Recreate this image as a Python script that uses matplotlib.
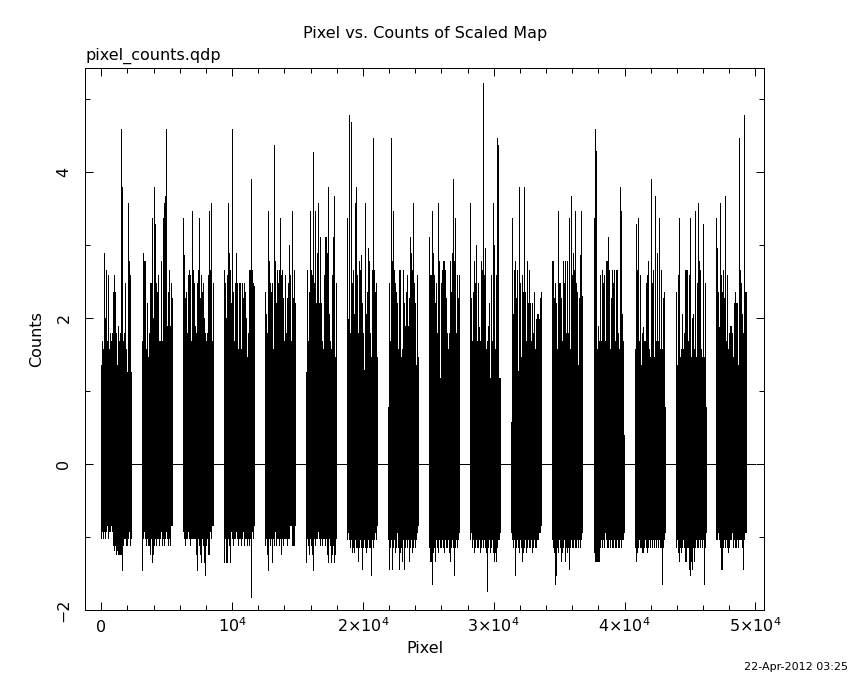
import numpy as np
import matplotlib
matplotlib.use("Agg")
import matplotlib.pyplot as plt
from matplotlib.ticker import MultipleLocator

# pixel ranges of the 16 map strips (start pixel, width), zeros in between
block_starts = [0, 3107, 6237, 9367, 12550, 15650, 18780, 21910,
                25040, 28170, 31300, 34430, 37640, 40770, 43900, 47030]
block_width = 2370
pixel_end = 50000

# upper envelope of counts per screen column, one list per strip
tops = [
    [1.36, 1.68, 1.57, 2.89, 2.0, 2.66, 1.68, 2.58, 1.57, 1.79, 1.68, 1.79, 2.36, 2.58, 2.36, 1.79,
     1.36, 1.89, 1.68, 1.79, 4.58, 3.79, 1.68, 1.79, 2.47, 1.57, 1.26, 3.57, 2.78, 2.58, 1.26],
    [1.68, 2.89, 2.78, 2.78, 1.57, 2.2, 1.47, 1.79, 2.47, 2.47, 3.36, 2.0, 3.79, 3.28, 2.47, 2.36,
     2.58, 1.68, 1.68, 2.78, 1.68, 3.36, 3.57, 3.67, 4.58, 1.89, 2.36, 2.66, 1.89, 2.47, 2.27],
    [3.36, 2.86, 2.27, 2.36, 1.79, 2.58, 2.66, 2.58, 1.68, 3.46, 2.66, 2.47, 1.89, 1.79, 2.47, 2.66,
     3.36, 2.27, 2.58, 2.36, 2.47, 2.0, 1.79, 1.68, 1.79, 2.58, 3.46, 2.66, 3.57, 1.68, 2.47],
    [2.66, 2.47, 2.0, 2.58, 3.57, 2.89, 2.66, 2.2, 4.58, 2.36, 1.68, 2.47, 2.89, 2.47, 1.57, 2.47,
     2.47, 1.57, 2.47, 2.27, 2.47, 2.36, 2.0, 1.47, 1.79, 2.66, 2.66, 3.9, 2.66, 2.47, 2.43],
    [2.36, 2.05, 1.79, 3.46, 2.78, 2.47, 2.36, 2.47, 1.57, 4.36, 2.78, 2.2, 2.66, 2.47, 2.66, 3.36,
     2.58, 2.66, 2.27, 1.68, 2.58, 1.79, 2.27, 2.47, 3.0, 2.58, 1.68, 3.46, 2.27, 2.66, 2.2],
    [1.26, 2.66, 1.68, 2.36, 3.46, 2.66, 2.58, 4.27, 2.47, 3.46, 2.2, 2.89, 3.57, 2.2, 3.11, 2.2,
     1.68, 1.57, 2.58, 3.11, 3.11, 2.89, 3.79, 2.05, 1.68, 1.57, 2.58, 3.11, 3.67, 1.47, 2.47],
    [3.36, 1.98, 4.78, 1.79, 4.68, 2.47, 2.66, 2.05, 3.57, 3.79, 2.58, 1.79, 2.78, 2.66, 2.86, 2.2,
     1.79, 1.28, 3.57, 2.05, 2.36, 2.95, 2.78, 1.79, 1.47, 2.66, 4.46, 2.66, 2.36, 2.47, 1.47],
    [0.78, 2.47, 1.68, 4.46, 2.78, 3.46, 2.66, 2.47, 2.36, 2.2, 1.57, 2.66, 2.66, 1.47, 1.57, 2.66,
     2.2, 1.89, 2.36, 2.58, 1.89, 2.27, 3.11, 2.89, 2.66, 3.57, 2.47, 2.2, 1.36, 2.58, 1.47],
    [3.11, 2.58, 2.58, 3.46, 2.89, 2.58, 2.2, 2.47, 1.79, 3.57, 2.78, 1.17, 2.47, 2.66, 2.78, 2.78,
     2.66, 2.27, 1.79, 1.57, 1.79, 2.78, 2.36, 2.89, 3.9, 2.78, 3.36, 1.79, 2.58, 2.27, 2.58],
    [3.57, 2.27, 1.68, 2.36, 2.78, 2.47, 3.0, 1.68, 2.47, 1.87, 1.68, 2.78, 2.66, 5.22, 2.58, 2.95,
     1.57, 1.68, 1.89, 2.2, 1.17, 2.58, 1.68, 3.57, 3.0, 1.57, 2.58, 4.46, 4.36, 1.17, 1.17],
    [0.58, 3.36, 2.05, 2.66, 2.78, 2.27, 2.66, 1.27, 3.79, 2.47, 1.47, 2.58, 2.36, 3.79, 2.36, 1.68,
     2.78, 2.2, 2.66, 2.2, 1.68, 2.2, 1.79, 2.36, 1.57, 1.98, 2.05, 2.05, 1.98, 2.27, 2.36],
    [2.78, 2.78, 2.27, 2.47, 2.2, 1.57, 3.46, 2.47, 2.47, 2.27, 1.68, 2.78, 2.47, 2.78, 1.79, 2.78,
     1.79, 3.36, 1.57, 3.67, 2.58, 2.89, 2.66, 3.46, 2.47, 2.36, 1.36, 2.27, 2.86, 3.46, 2.3],
    [3.36, 4.58, 4.28, 1.57, 1.89, 1.68, 2.58, 1.68, 2.66, 2.47, 2.58, 1.68, 2.78, 2.78, 3.11, 2.66,
     1.57, 2.27, 2.66, 2.47, 2.66, 1.68, 2.66, 2.66, 1.79, 1.57, 3.79, 3.46, 2.05, 1.68, 0.4],
    [1.57, 3.28, 2.66, 3.36, 1.68, 2.58, 1.36, 1.79, 1.87, 1.68, 1.68, 2.47, 2.58, 2.78, 1.57, 1.47,
     3.9, 2.47, 2.66, 1.47, 3.67, 1.68, 2.89, 1.68, 3.36, 1.57, 2.66, 1.57, 2.27, 2.36, 0.78],
    [2.36, 1.36, 2.58, 3.36, 1.47, 1.57, 2.05, 1.57, 1.79, 2.66, 2.66, 2.66, 1.68, 2.58, 3.36, 1.47,
     2.0, 2.05, 1.57, 3.46, 1.47, 2.47, 3.57, 2.78, 2.66, 1.57, 1.47, 3.28, 1.47, 2.47, 0.78],
    [3.36, 2.95, 2.36, 1.87, 3.57, 2.58, 2.36, 2.66, 2.27, 3.67, 1.68, 2.58, 1.57, 1.79, 1.89, 1.89,
     1.79, 1.47, 2.2, 2.36, 2.2, 2.2, 1.36, 4.46, 2.66, 2.47, 2.05, 1.79, 4.78, 2.36, 2.36],
]

# lower envelope of counts per screen column
bottoms = [
    [-1.03, -0.93, -1.03, -0.93, -1.03, -0.93, -0.85, -1.03, -0.93, -0.93, -0.85, -0.93, -1.13, -1.19, -1.13, -1.25,
     -1.19, -1.25, -1.25, -1.25, -1.25, -1.47, -1.13, -1.03, -1.03, -1.13, -1.13, -1.03, -0.93, -1.13, -1.03],
    [-1.47, -1.03, -0.93, -1.03, -1.13, -1.03, -1.13, -1.13, -1.25, -1.03, -1.35, -1.25, -1.13, -1.03, -1.13, -1.03,
     -1.03, -1.13, -1.03, -0.93, -1.13, -1.03, -1.13, -1.03, -0.93, -1.03, -1.13, -1.03, -1.13, -0.85, -0.85],
    [-0.93, -1.03, -1.13, -1.03, -1.03, -0.93, -1.03, -1.13, -1.03, -1.03, -1.03, -1.03, -1.03, -1.25, -1.47, -1.03,
     -1.13, -1.25, -1.35, -1.03, -1.13, -1.35, -1.54, -1.13, -1.03, -1.25, -1.25, -0.93, -1.03, -0.85, -0.85],
    [-1.35, -1.03, -1.35, -1.35, -1.03, -1.13, -1.35, -0.93, -1.03, -1.13, -1.03, -1.03, -0.93, -1.03, -1.13, -1.03,
     -1.03, -1.13, -1.03, -0.93, -1.13, -1.03, -1.03, -1.13, -1.03, -1.13, -1.03, -1.84, -0.93, -1.03, -0.85],
    [-1.13, -1.03, -1.25, -1.47, -1.03, -1.13, -1.03, -1.35, -1.03, -1.13, -0.93, -1.13, -1.03, -1.03, -1.13, -1.03,
     -1.25, -1.03, -1.13, -1.03, -1.03, -1.03, -1.13, -1.03, -1.03, -0.85, -0.85, -1.13, -1.13, -1.13, -0.85],
    [-1.35, -1.03, -1.13, -1.25, -1.03, -1.13, -1.25, -1.47, -1.03, -1.13, -1.03, -1.03, -0.93, -1.03, -1.13, -1.03,
     -1.13, -1.03, -1.03, -1.13, -1.03, -1.25, -1.35, -1.03, -1.13, -1.35, -1.25, -1.13, -1.35, -1.25, -1.03],
    [-1.04, -0.95, -1.04, -1.15, -1.04, -1.22, -1.15, -1.22, -1.04, -1.15, -1.15, -1.34, -1.15, -1.04, -1.15, -1.45,
     -1.15, -1.04, -1.15, -1.22, -1.15, -1.04, -1.15, -1.15, -1.54, -1.04, -1.15, -1.04, -0.95, -1.04, -0.85],
    [-1.04, -1.45, -1.15, -1.04, -1.45, -1.15, -1.04, -1.22, -1.15, -0.95, -1.15, -1.45, -1.22, -1.15, -1.34, -1.04,
     -1.45, -1.15, -1.04, -1.15, -1.04, -1.34, -1.15, -1.04, -1.22, -1.15, -1.04, -1.15, -1.04, -0.95, -0.85],
    [-1.15, -1.34, -1.34, -1.66, -1.22, -1.15, -1.34, -1.04, -1.15, -1.22, -1.04, -1.15, -1.15, -1.04, -1.15, -1.22,
     -1.04, -1.15, -1.15, -1.04, -1.22, -1.34, -1.15, -1.04, -1.15, -1.54, -1.15, -1.04, -1.15, -1.04, -0.95],
    [-1.04, -0.95, -1.15, -1.04, -1.22, -1.15, -1.04, -1.15, -1.15, -1.04, -1.22, -1.15, -1.04, -1.15, -1.04, -1.15,
     -1.22, -1.76, -1.15, -1.04, -1.22, -1.15, -1.04, -1.22, -1.34, -1.22, -1.34, -1.15, -1.04, -1.04, -0.95],
    [-0.95, -1.04, -1.15, -1.04, -1.54, -1.15, -1.04, -1.15, -1.22, -1.04, -1.15, -1.34, -1.22, -1.15, -1.04, -1.22,
     -1.15, -1.04, -1.15, -1.15, -1.04, -1.22, -1.15, -1.04, -1.15, -1.15, -1.04, -1.04, -0.95, -0.95, -0.85],
    [-1.04, -1.15, -1.22, -1.66, -1.54, -1.15, -1.22, -1.04, -1.15, -1.34, -1.22, -1.15, -1.04, -1.34, -1.15, -1.22,
     -1.15, -1.45, -1.15, -1.04, -1.15, -1.15, -1.04, -1.15, -1.15, -1.04, -1.15, -1.04, -1.15, -1.04, -0.95],
    [-1.22, -1.34, -1.34, -1.34, -1.34, -1.34, -1.15, -1.04, -1.15, -1.04, -1.15, -0.95, -1.04, -1.15, -1.15, -1.04,
     -1.15, -1.04, -1.15, -1.15, -1.04, -1.15, -1.15, -1.04, -1.15, -1.15, -1.04, -1.15, -1.04, -1.04, -0.95],
    [-1.15, -1.34, -1.22, -1.15, -1.04, -1.15, -1.15, -1.22, -1.22, -1.15, -1.04, -1.15, -1.22, -1.15, -1.04, -1.15,
     -1.04, -1.15, -1.04, -1.15, -1.04, -1.15, -1.04, -1.15, -1.04, -1.15, -1.15, -1.66, -1.15, -1.04, -0.95],
    [-1.15, -1.04, -1.22, -1.34, -1.15, -1.22, -1.15, -1.04, -1.15, -1.34, -1.34, -1.15, -1.15, -1.45, -1.54, -1.34,
     -1.45, -1.15, -1.34, -1.15, -1.04, -1.15, -1.15, -1.04, -1.15, -1.04, -1.15, -1.04, -1.66, -1.15, -0.95],
    [-1.04, -1.04, -0.95, -1.04, -1.15, -1.45, -1.45, -1.15, -1.04, -1.15, -1.04, -1.15, -1.22, -1.15, -1.04, -1.04,
     -0.95, -1.15, -1.04, -1.15, -1.15, -1.04, -1.15, -1.04, -1.04, -1.04, -1.15, -1.45, -1.04, -0.95, -0.95],
]

xtick_vals = [0, 10000, 20000, 30000, 40000, 50000]
xtick_labels = ['0', r'$10^4$', r'$2{\times}10^4$', r'$3{\times}10^4$', r'$4{\times}10^4$', r'$5{\times}10^4$']
ytick_vals = [-2, 0, 2, 4]
ytick_labels = ['\u22122', '0', '2', '4']

fig = plt.figure(figsize=(8.5, 6.8), dpi=100)
ax = fig.add_axes([0.1004, 0.1029, 0.7988, 0.7971])

ax.plot([0, pixel_end], [0, 0], color='k', lw=0.6, antialiased=False)
for start, top, bot in zip(block_starts, tops, bottoms):
    n = len(top)
    x = start + np.arange(n + 1) * block_width / n
    ax.fill_between(x, bot + [bot[-1]], top + [top[-1]], step='post',
                    color='k', lw=0, antialiased=False)

ax.set_xlim(-1223, 50690)
ax.set_ylim(-2.0, 5.42)

ax.set_xticks(xtick_vals, xtick_labels)
ax.set_yticks(ytick_vals, ytick_labels)
ax.xaxis.set_minor_locator(MultipleLocator(2000))
ax.yaxis.set_minor_locator(MultipleLocator(1))
ax.tick_params(which='both', direction='in', top=True, right=True, width=0.72, labelsize=11.5)
ax.tick_params(which='major', length=6)
ax.tick_params(which='minor', length=3.6)
ax.tick_params(axis='x', pad=16)
ax.tick_params(axis='y', pad=10, labelrotation=90)
for lab in ax.get_xticklabels():
    lab.set_va('baseline')
for lab in ax.get_yticklabels():
    lab.set_va('center')
for sp in ax.spines.values():
    sp.set_linewidth(0.72)

ax.set_xlabel('Pixel', fontsize=11.5)
ax.xaxis.set_label_coords(0.5, -0.058)
ax.set_ylabel('Counts', fontsize=11.5)
ax.yaxis.set_label_coords(-0.061, 0.5)

fig.text(0.4998, 0.951, 'Pixel vs. Counts of Scaled Map', ha='center', va='center', fontsize=11.5)
fig.text(0.1004, 0.918, 'pixel_counts.qdp', ha='left', va='center', fontsize=11.5)
fig.text(0.998, 0.019, '22-Apr-2012 03:25', ha='right', va='center', fontsize=8)

fig.savefig('out.png', dpi=100)
